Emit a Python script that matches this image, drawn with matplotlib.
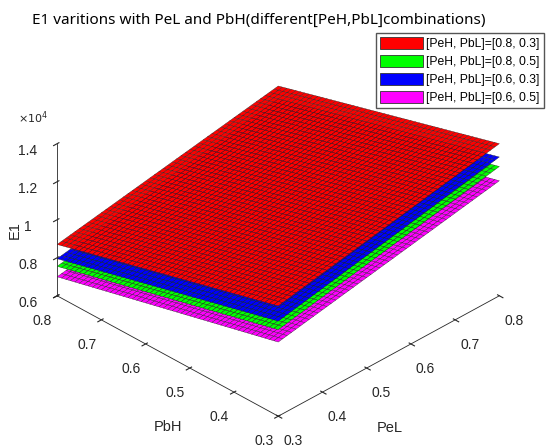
import numpy as np
import matplotlib.pyplot as plt
from matplotlib.patches import Patch
from matplotlib.ticker import FuncFormatter

# Axis ranges of the two inputs
pel_range = [0.3, 0.8]
pbh_range = [0.3, 0.8]
n_grid = 51

# E1 at the four corners, order: (PeL,PbH) = (0.3,0.3), (0.8,0.3), (0.3,0.8), (0.8,0.8)
e1_red = [11800, 14000, 8700, 10700]      # [PeH, PbL]=[0.8, 0.3]
e1_green = [10550, 12800, 7550, 9550]     # [PeH, PbL]=[0.8, 0.5]
e1_blue = [11000, 13300, 7950, 10000]     # [PeH, PbL]=[0.6, 0.3]
e1_magenta = [9900, 12050, 7000, 8900]    # [PeH, PbL]=[0.6, 0.5]

labels = ['[PeH, PbL]=[0.8, 0.3]', '[PeH, PbL]=[0.8, 0.5]',
          '[PeH, PbL]=[0.6, 0.3]', '[PeH, PbL]=[0.6, 0.5]']
colors = ['#ff0000', '#00ff00', '#0000ff', '#ff00ff']

x_ticks = [0.3, 0.4, 0.5, 0.6, 0.7, 0.8]
y_ticks = [0.3, 0.4, 0.5, 0.6, 0.7, 0.8]
z_ticks = [6000, 8000, 10000, 12000, 14000]

plt.rcParams['font.family'] = ['Liberation Sans', 'DejaVu Sans']

# mesh
u = np.linspace(0, 1, n_grid)
U, V = np.meshgrid(u, u)
PeL = pel_range[0] + U * (pel_range[1] - pel_range[0])
PbH = pbh_range[0] + V * (pbh_range[1] - pbh_range[0])


def plane(c):
    # c: values at the four corners, filled across the grid (the surfaces are flat)
    return (c[0] * (1 - U) * (1 - V) + c[1] * U * (1 - V)
            + c[2] * (1 - U) * V + c[3] * U * V)


fig = plt.figure(figsize=(5.5, 4.47), dpi=100)
ax = fig.add_axes([-0.0155, -0.0246, 1.02, 1.038], projection='3d', computed_zorder=False)
ax.set_proj_type('ortho')
ax.view_init(elev=33, azim=-135)
ax.set_box_aspect((1, 1, 0.58))

# draw from the lowest surface up so red ends on top
order = [(e1_magenta, colors[3]), (e1_green, colors[1]),
         (e1_blue, colors[2]), (e1_red, colors[0])]
for i, (vals, col) in enumerate(order):
    ax.plot_surface(PeL, PbH, plane(vals), color=col, edgecolor='#202020',
                    linewidth=0.25, shade=False, rstride=1, cstride=1, zorder=i + 1)

ax.set_xlim(0.3, 0.8)
ax.set_ylim(0.3, 0.8)
ax.set_zlim(6000, 14000)
ax.set_xticks(x_ticks)
ax.set_yticks(y_ticks)
ax.set_zticks(z_ticks)
ax.zaxis.set_major_formatter(FuncFormatter(lambda v, p: f'{v / 1e4:g}'))
ax.tick_params(labelsize=10, colors='#262626')

ax.grid(False)
for a in (ax.xaxis, ax.yaxis, ax.zaxis):
    a.pane.fill = False
    a.pane.set_edgecolor('none')
    a.line.set_color('#262626')
    a.line.set_linewidth(0.6)

# axis labels
fig.text(0.709, 0.043, 'PeL', fontsize=10.5, ha='center', va='center', color='#262626')
fig.text(0.305, 0.045, 'PbH', fontsize=10.5, ha='center', va='center', color='#262626')
fig.text(0.026, 0.485, 'E1', fontsize=10.5, ha='center', va='center', rotation=90,
         color='#262626')
fig.text(0.033, 0.736, r'$\times10^4$', fontsize=8, va='center', color='#262626')

fig.text(0.47, 0.955, 'E1 varitions with PeL and PbH(different[PeH,PbL]combinations)',
         fontsize=11, family=['Noto Sans', 'DejaVu Sans'], ha='center', va='center')

handles = [Patch(facecolor=c, edgecolor='#333333', linewidth=0.6) for c in colors]
fig.legend(handles, labels, loc='upper right', bbox_to_anchor=(0.989, 0.926),
           fontsize=8.7, handlelength=3.5, handleheight=1.15, labelspacing=0.4,
           handletextpad=0.3, borderpad=0.35, borderaxespad=0, fancybox=False,
           edgecolor='#555555', framealpha=1)

plt.savefig('out.png', dpi=100)
